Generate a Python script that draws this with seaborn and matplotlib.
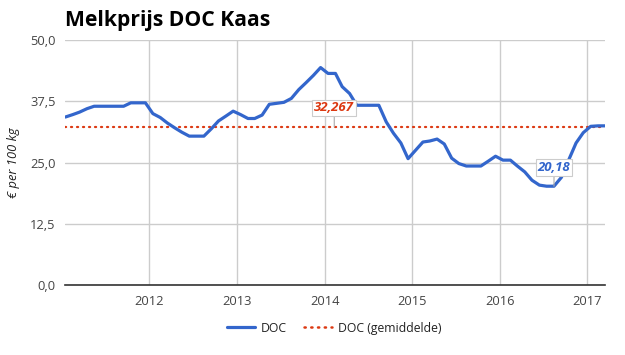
import matplotlib
matplotlib.use("Agg")
import matplotlib.pyplot as plt
import matplotlib.dates as mdates
from matplotlib.lines import Line2D
import seaborn as sns
import pandas as pd
import numpy as np

# ---- data -------------------------------------------------------------
months = pd.date_range("2011-01-01", periods=75, freq="MS") + pd.Timedelta(days=14)
doc_values = [
    34.3, 34.8, 35.3, 36.0, 36.5, 36.5, 36.5, 36.5, 36.5, 37.2, 37.2, 37.2,   # 2011
    35.0, 34.2, 33.1, 32.1, 31.2, 30.4, 30.4, 30.4, 31.9, 33.5, 34.5, 35.5,   # 2012
    34.8, 34.0, 34.0, 34.7, 36.9, 37.1, 37.3, 38.1, 39.9, 41.3, 42.8, 44.4,   # 2013
    43.2, 43.2, 40.5, 39.1, 36.7, 36.7, 36.7, 36.7, 33.3, 31.0, 29.0, 25.8,   # 2014
    27.5, 29.2, 29.4, 29.8, 28.8, 25.9, 24.8, 24.3, 24.3, 24.3, 25.3, 26.3,   # 2015
    25.5, 25.5, 24.3, 23.1, 21.4, 20.4, 20.18, 20.18, 22.0, 25.5, 29.0, 31.1, # 2016
    32.4, 32.5, 32.5,                                                          # 2017
]
average_value = 32.267
series_name = "DOC"
average_name = "DOC (gemiddelde)"
title = "Melkprijs DOC Kaas"
y_label = "€ per 100 kg"
y_ticks = [0, 12.5, 25, 37.5, 50]
x_years = [2012, 2013, 2014, 2015, 2016, 2017]
avg_label_date = "2014-02-10"
min_label_date = "2016-08-15"
min_label_value = 20.18

df = pd.DataFrame({"date": months, "value": doc_values})

# ---- style ------------------------------------------------------------
sns.set_style("white")
plt.rcParams["font.family"] = ["Open Sans", "DejaVu Sans"]

blue = "#3366cc"
red = "#dc3912"
grid = "#cccccc"
tick_c = "#444444"
dots = (0, (0.5, 2.2))

fig = plt.figure(figsize=(6.25, 3.55), dpi=100)
ax = fig.add_axes([0.1046, 0.197, 0.8631, 0.690])

sns.lineplot(data=df, x="date", y="value", ax=ax, color=blue, linewidth=2.3,
             label=series_name, legend=False, zorder=3)
ax.axhline(average_value, color=red, linewidth=1.6, linestyle=dots,
           dash_capstyle="round", zorder=2)

ax.set_xlim(df["date"].iloc[0], df["date"].iloc[-1])
ax.set_ylim(0, 50)
ax.set_yticks(y_ticks)
ax.set_yticklabels([f"{v:.1f}".replace(".", ",") for v in y_ticks])
ax.set_xticks([pd.Timestamp(f"{y}-01-01") for y in x_years])
ax.xaxis.set_major_formatter(mdates.DateFormatter("%Y"))

ax.grid(True, color=grid, linewidth=1.0)
ax.set_axisbelow(True)
for s in ["top", "right", "left"]:
    ax.spines[s].set_visible(False)
ax.spines["bottom"].set_color("#333333")
ax.spines["bottom"].set_linewidth(1.2)
ax.spines["bottom"].set_zorder(4)
ax.tick_params(axis="both", length=0, labelsize=9.3, colors=tick_c)
ax.tick_params(axis="y", pad=7)
ax.tick_params(axis="x", pad=7)
ax.set_xlabel("")
ax.set_ylabel(y_label, fontsize=9.3, style="italic", color="#222222", labelpad=7)

fig.text(0.104, 0.942, title, fontsize=15.2, fontweight="bold", color="#000000",
         va="center", ha="left")

box = dict(boxstyle="square,pad=0.15", fc="white", ec="#cccccc", lw=0.8)
ax.annotate(f"{average_value:.3f}".replace(".", ","),
            xy=(pd.Timestamp(avg_label_date), average_value),
            xytext=(0, 9), textcoords="offset points", ha="center", va="bottom",
            fontsize=9.5, fontweight="bold", style="italic", color=red, bbox=box,
            arrowprops=dict(arrowstyle="-", color="#aaaaaa", lw=0.8,
                            shrinkA=0, shrinkB=0), zorder=5)
ax.annotate(f"{min_label_value:.2f}".replace(".", ","),
            xy=(pd.Timestamp(min_label_date), min_label_value),
            xytext=(0, 9), textcoords="offset points", ha="center", va="bottom",
            fontsize=9.5, fontweight="bold", style="italic", color=blue, bbox=box,
            arrowprops=dict(arrowstyle="-", color="#aaaaaa", lw=0.8,
                            shrinkA=0, shrinkB=0), zorder=5)

handles = [Line2D([], [], color=blue, lw=2.3),
           Line2D([], [], color=red, lw=1.8, linestyle=dots, dash_capstyle="round")]
fig.legend(handles, [series_name, average_name], loc="center",
           bbox_to_anchor=(0.535, 0.076), ncol=2, frameon=False, fontsize=8.8,
           handlelength=2.3, handletextpad=0.5, columnspacing=1.4,
           labelcolor="#222222")

fig.savefig("out.png", dpi=100)
